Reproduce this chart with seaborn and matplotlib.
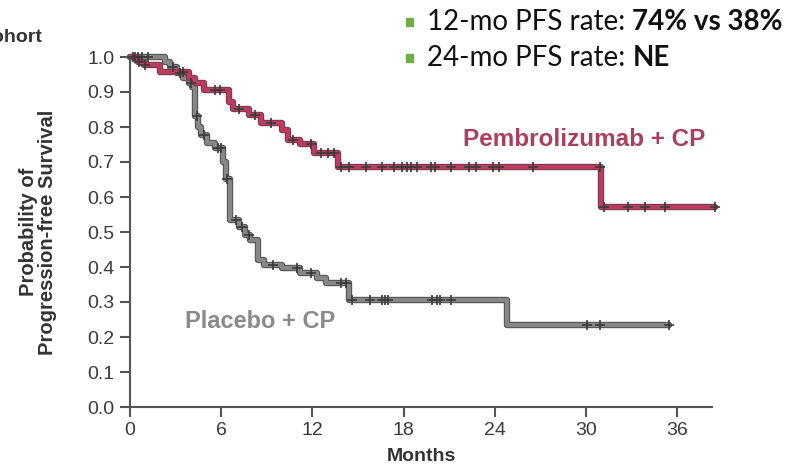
import numpy as np
import pandas as pd
import matplotlib
matplotlib.use("Agg")
import matplotlib.pyplot as plt
import seaborn as sns

# Kaplan-Meier step values (months, survival probability)
pembro_t = [0, 0.5, 0.9, 2.0, 3.9, 4.3, 4.9, 6.5, 6.8, 7.8, 8.6, 10.0, 10.4, 11.2, 12.1, 13.7, 31.0, 38.5]
pembro_s = [1.0, 0.985, 0.978, 0.958, 0.94, 0.925, 0.906, 0.87, 0.85, 0.835, 0.81, 0.79, 0.763, 0.75, 0.725, 0.685, 0.571, 0.571]
pembro_cens = [0.3, 0.6, 1.0, 3.5, 5.6, 5.9, 7.2, 8.2, 9.3, 10.7, 11.9, 12.6, 13.0, 13.4,
               13.9, 14.4, 15.5, 16.6, 17.4, 17.9, 18.2, 18.5, 18.9, 19.8, 20.1, 21.1, 22.3,
               22.8, 23.9, 24.3, 26.5, 30.9, 31.2, 32.8, 33.9, 35.2, 38.5]

placebo_t = [0, 2.3, 2.6, 3.1, 3.5, 3.9, 4.1, 4.3, 4.5, 4.7, 5.1, 5.6, 6.1, 6.3, 6.6, 7.2, 7.6, 7.9, 8.4, 8.8, 10.0, 11.2, 12.3, 12.9, 14.4, 24.8, 35.5]
placebo_s = [1.0, 0.985, 0.97, 0.954, 0.94, 0.925, 0.914, 0.83, 0.80, 0.777, 0.754, 0.74, 0.70, 0.65, 0.535, 0.514, 0.49, 0.477, 0.42, 0.405, 0.397, 0.383, 0.37, 0.354, 0.305, 0.234, 0.234]
placebo_cens = [0.2, 0.5, 0.8, 1.2, 2.8, 3.3, 4.0, 4.4, 4.9, 5.8, 6.0, 6.4, 7.0, 7.4, 7.8,
                9.4, 11.0, 11.9, 13.9, 14.2, 14.6, 15.8, 16.6, 16.8, 17.0, 19.9, 20.2, 20.4,
                21.1, 30.1, 30.9, 35.5]

x_ticks = [0, 6, 12, 18, 24, 30, 36]
y_ticks = [0.0, 0.1, 0.2, 0.3, 0.4, 0.5, 0.6, 0.7, 0.8, 0.9, 1.0]

arm_names = ["Pembrolizumab + CP", "Placebo + CP"]
arm_colors = {"Pembrolizumab + CP": "#bf3a60", "Placebo + CP": "#878787"}
edge_colors = {"Pembrolizumab + CP": "#74404e", "Placebo + CP": "#555555"}

curves = pd.concat([
    pd.DataFrame({"Months": pembro_t, "PFS": pembro_s, "Arm": arm_names[0]}),
    pd.DataFrame({"Months": placebo_t, "PFS": placebo_s, "Arm": arm_names[1]}),
], ignore_index=True)


def step_value(t, times, surv):
    idx = np.searchsorted(times, t, side="right") - 1
    return np.asarray(surv)[idx]


censors = pd.concat([
    pd.DataFrame({"Months": pembro_cens,
                  "PFS": step_value(pembro_cens, pembro_t, pembro_s),
                  "Arm": arm_names[0]}),
    pd.DataFrame({"Months": placebo_cens,
                  "PFS": step_value(placebo_cens, placebo_t, placebo_s),
                  "Arm": arm_names[1]}),
], ignore_index=True)

sns.set_style("white")
plt.rcParams["font.family"] = ["Liberation Sans Narrow", "Liberation Sans", "DejaVu Sans"]

fig = plt.figure(figsize=(7.97, 4.69), dpi=100)
ax = fig.add_axes([130 / 797, 1 - 407 / 469, (712 - 130) / 797, (407 - 57) / 469])

# draw placebo first so pembrolizumab sits on top; dark outline under coloured line
for arm in [arm_names[1], arm_names[0]]:
    sub = curves[curves["Arm"] == arm]
    sns.lineplot(data=sub, x="Months", y="PFS", ax=ax, drawstyle="steps-post",
                 color=edge_colors[arm], linewidth=4.6, estimator=None, sort=False,
                 legend=False, clip_on=False)
    sns.lineplot(data=sub, x="Months", y="PFS", ax=ax, drawstyle="steps-post",
                 color=arm_colors[arm], linewidth=3.0, estimator=None, sort=False,
                 legend=False, clip_on=False)
    sns.scatterplot(data=censors[censors["Arm"] == arm], x="Months", y="PFS", ax=ax,
                    marker="+", s=50, color="#3a3a3a", linewidth=1.2, legend=False,
                    zorder=5, clip_on=False)

ax.set_xlim(0, 38.3)
ax.set_ylim(0, 1.0)
ax.set_xticks(x_ticks)
ax.set_yticks(y_ticks)
ax.set_xticklabels([str(v) for v in x_ticks])
ax.set_yticklabels([f"{v:.1f}" for v in y_ticks])
ax.tick_params(axis="both", direction="out", length=7, width=1.5, color="#555555",
               labelsize=14, labelcolor="#3a3a3a", pad=4, left=True, bottom=True)

for side in ["top", "right"]:
    ax.spines[side].set_visible(False)
for side in ["left", "bottom"]:
    ax.spines[side].set_color("#555555")
    ax.spines[side].set_linewidth(1.5)

ax.set_xlabel("Months", fontsize=14, fontweight="bold", color="#333333", labelpad=6)
ax.set_ylabel("Probability of\nProgression-free Survival", fontsize=14.5, fontweight="bold",
              color="#333333", labelpad=22, linespacing=1.0)

ax.text(29.9, 0.763, "Pembrolizumab + CP", fontsize=17.5, fontweight="bold",
        color="#a8405e", ha="center", va="center", family=["Liberation Sans", "DejaVu Sans"])
ax.text(8.55, 0.243, "Placebo + CP", fontsize=17, fontweight="bold",
        color="#8a8a8a", ha="center", va="center", family=["Liberation Sans", "DejaVu Sans"])

# cohort heading cut at the figure edge
fig.text(42 / 797, 1 - 37 / 469, "Cohort", fontsize=14, fontweight="bold", color="#333333",
         ha="right", va="center", family=["Liberation Sans", "DejaVu Sans"])

# bullet summary
bullet_font = ["Lato", "Open Sans", "DejaVu Sans"]
for yline, plain, bold in [(22, "12-mo PFS rate: ", "74% vs 38%"),
                           (58, "24-mo PFS rate: ", "NE")]:
    yf = 1 - yline / 469
    fig.patches.append(plt.Rectangle((406 / 797, yf - 4 / 469), 7 / 797, 8 / 469,
                                     transform=fig.transFigure, color="#70ad47"))
    t1 = fig.text(427 / 797, yf, plain, fontsize=20, color="#111111", ha="left",
                  va="center", family=bullet_font)
    fig.canvas.draw()
    bb = t1.get_window_extent()
    fig.text(bb.x1 / fig.bbox.width, yf, bold, fontsize=20, fontweight="bold",
             color="#111111", ha="left", va="center", family=bullet_font)

fig.savefig("out.png", dpi=100)
